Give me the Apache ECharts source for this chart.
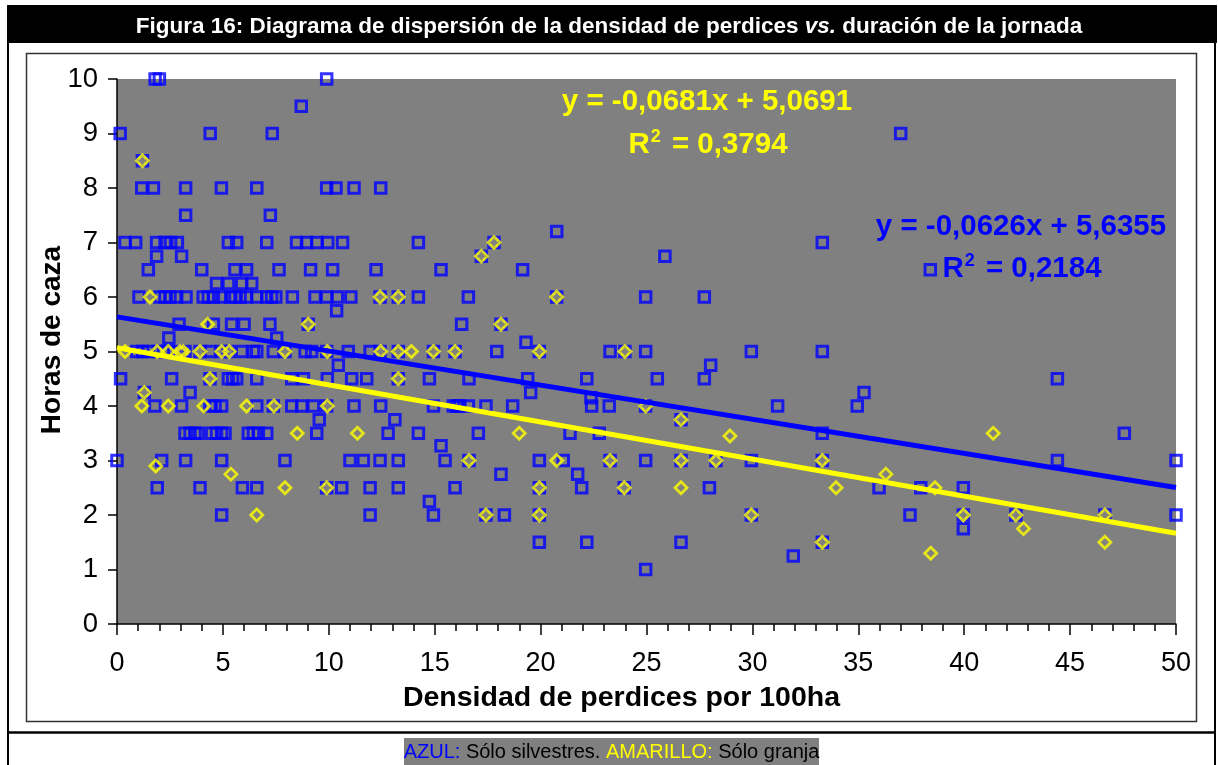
<!DOCTYPE html>
<html>
<head>
<meta charset="utf-8">
<script src="https://cdn.jsdelivr.net/npm/echarts@6/dist/echarts.min.js"></script>
<style>html,body{margin:0;padding:0;background:#fff;}#c{width:1218px;height:765px;}</style>
</head>
<body>
<div id="c"></div>
<script>
// Blue squares: wild-only ("Sólo silvestres") [density, hours]
const silvestres = [
 [1.8,10],[2.0,10],[9.9,10],
 [8.7,9.5],
 [0.15,9],[4.4,9],[7.33,9],[37.0,9],
 [1.2,8.5],
 [1.17,8],[1.72,8],[3.24,8],[4.93,8],[6.6,8],[9.9,8],[10.34,8],[11.19,8],[12.45,8],
 [3.24,7.5],[7.24,7.5],
 [20.76,7.2],
 [0.38,7],[0.88,7],[1.87,7],[2.27,7],[2.53,7],[2.85,7],[5.26,7],[5.65,7],[7.07,7],[8.48,7],[8.95,7],[9.43,7],[9.95,7],[10.65,7],[14.23,7],[17.8,7],[33.3,7],
 [1.87,6.75],[3.05,6.75],[17.2,6.75],[25.87,6.75],
 [1.48,6.5],[4.0,6.5],[5.57,6.5],[6.12,6.5],[7.65,6.5],[9.14,6.5],[10.18,6.5],[12.23,6.5],[15.3,6.5],[19.15,6.5],[38.4,6.5],
 [4.7,6.25],[5.26,6.25],[5.89,6.25],[6.36,6.25],
 [1.04,6],[2.03,6],[2.27,6],[2.5,6],[2.82,6],[3.26,6],[4.07,6],[4.31,6],[4.55,6],[4.94,6],[5.37,6],[5.57,6],[5.81,6],[6.12,6],[6.6,6],[7.07,6],[7.3,6],[7.5,6],[8.28,6],[9.35,6],[9.9,6],[10.4,6],[11.04,6],[12.42,6],[13.28,6],[14.23,6],[16.59,6],[20.76,6],[24.96,6],[27.73,6],
 [10.37,5.75],
 [2.93,5.5],[4.55,5.5],[5.41,5.5],[6.0,5.5],[7.22,5.5],[9.03,5.5],[16.27,5.5],[18.13,5.5],
 [2.45,5.25],[7.54,5.25],
 [19.31,5.17],
 [0.93,5],[1.21,5],[1.48,5],[1.95,5],[2.19,5],[2.42,5],[2.9,5],[3.21,5],[3.92,5],[4.39,5],[4.94,5],[5.26,5],[5.89,5],[6.44,5],[6.6,5],[7.38,5],[7.93,5],[8.88,5],[9.19,5],[9.9,5],[10.92,5],[11.95,5],[12.42,5],[13.28,5],[14.94,5],[15.96,5],[17.93,5],[19.94,5],[23.28,5],[23.98,5],[24.96,5],[29.95,5],[33.3,5],
 [10.45,4.75],[28.03,4.75],
 [0.17,4.5],[2.58,4.5],[4.39,4.5],[5.26,4.5],[5.46,4.5],[5.65,4.5],[6.6,4.5],[8.25,4.5],[8.8,4.5],[9.93,4.5],[11.08,4.5],[11.79,4.5],[13.28,4.5],[14.75,4.5],[16.62,4.5],[19.39,4.5],[22.18,4.5],[25.51,4.5],[27.73,4.5],[44.4,4.5],
 [1.29,4.25],[3.45,4.25],[19.53,4.25],[35.27,4.25],
 [22.38,4.15],
 [1.79,4],[3.05,4],[4.39,4],[4.63,4],[4.94,4],[6.6,4],[7.38,4],[8.25,4],[8.72,4],[9.27,4],[9.9,4],[11.19,4],[12.45,4],[14.94,4],[15.88,4],[16.04,4],[16.19,4],[16.59,4],[17.42,4],[18.68,4],[22.41,4],[23.24,4],[24.96,4],[31.19,4],[34.95,4],
 [9.55,3.75],[13.12,3.75],[26.63,3.75],
 [3.21,3.5],[3.45,3.5],[3.68,3.5],[3.84,3.5],[4.47,3.5],[4.7,3.5],[4.94,3.5],[5.1,3.5],[6.2,3.5],[6.44,3.5],[6.67,3.5],[7.07,3.5],[9.43,3.5],[12.8,3.5],[14.23,3.5],[17.06,3.5],[21.39,3.5],[22.77,3.5],[33.3,3.5],[47.56,3.5],
 [15.3,3.27],
 [0,3],[2.11,3],[3.24,3],[4.94,3],[7.93,3],[11.0,3],[11.63,3],[12.42,3],[13.28,3],[15.49,3],[16.62,3],[19.94,3],[21.07,3],[23.28,3],[24.96,3],[26.63,3],[28.28,3],[29.95,3],[33.3,3],[44.4,3],[50,3],
 [18.13,2.75],[21.75,2.75],
 [1.9,2.5],[3.92,2.5],[5.92,2.5],[6.6,2.5],[9.9,2.5],[10.61,2.5],[11.95,2.5],[13.28,2.5],[15.96,2.5],[19.94,2.5],[21.94,2.5],[23.95,2.5],[27.97,2.5],[35.98,2.5],[37.95,2.5],[39.96,2.5],
 [14.75,2.25],
 [4.94,2],[11.95,2],[14.94,2],[17.42,2],[18.29,2],[19.94,2],[29.95,2],[37.44,2],[39.96,2],[42.44,2],[46.64,2],[50,2],
 [39.96,1.75],
 [19.94,1.5],[22.18,1.5],[26.63,1.5],[33.3,1.5],
 [31.93,1.25],
 [24.96,1]
];

// Yellow diamonds: farm-only ("Sólo granja") [density, hours]
const granja = [
 [1.2,8.5],[17.8,7],[17.2,6.75],
 [1.56,6],[12.42,6],[13.28,6],[20.76,6],
 [4.28,5.5],[9.03,5.5],[18.13,5.5],
 [0.38,5],[1.9,5],[2.42,5],[2.97,5],[3.13,5],[3.92,5],[4.94,5],[5.3,5],[7.93,5],[9.93,5],[12.45,5],[13.28,5],[13.9,5],[14.94,5],[15.96,5],[19.94,5],[23.98,5],
 [4.39,4.5],[13.28,4.5],
 [1.29,4.25],
 [1.17,4],[2.42,4],[4.1,4],[6.12,4],[7.41,4],[9.93,4],[24.96,4],
 [26.63,3.75],
 [8.51,3.5],[11.35,3.5],[18.99,3.5],[41.37,3.5],
 [28.94,3.45],
 [16.62,3],[20.76,3],[23.28,3],[26.63,3],[28.28,3],[33.3,3],
 [1.83,2.9],
 [5.38,2.75],[36.3,2.75],
 [7.93,2.5],[9.9,2.5],[19.94,2.5],[23.95,2.5],[26.63,2.5],[33.95,2.5],[38.62,2.5],
 [6.6,2],[17.42,2],[19.94,2],[29.95,2],[39.96,2],[42.44,2],[46.64,2],
 [42.8,1.75],
 [33.3,1.5],[46.64,1.5],
 [38.42,1.3]
];

// Linear trendlines as printed on the chart: [slope, intercept, R²]
const blueTrend = [-0.0626, 5.6355, 0.2184];
const yellowTrend = [-0.0681, 5.0691, 0.3794];
const trendX = [0, 50];

const xTicks = [0, 5, 10, 15, 20, 25, 30, 35, 40, 45, 50];
const yTicks = [0, 1, 2, 3, 4, 5, 6, 7, 8, 9, 10];

const FONT = '"Liberation Sans", Arial, sans-serif';
const BLUE = '#0000FF';
const YELLOW = '#FFFF00';

function trendLine(t) { return trendX.map(x => [x, t[1] + t[0] * x]); }
function fmt(v, d) { return v.toFixed(d).replace('.', ','); }
function eqText(t) { return 'y = ' + fmt(t[0], 4) + 'x + ' + fmt(t[1], 4); }

const chart = echarts.init(document.getElementById('c'), null, {renderer: 'canvas'});
chart.setOption({
  animation: false,
  backgroundColor: '#ffffff',
  title: {
    text: 'Figura 16: Diagrama de dispersión de la densidad de perdices {i|vs.} duración de la jornada',
    left: 'center',
    top: 10,
    textStyle: {
      color: '#ffffff', fontFamily: FONT, fontWeight: 'bold', fontSize: 22.5,
      rich: { i: { color: '#ffffff', fontFamily: FONT, fontWeight: 'bold', fontStyle: 'italic', fontSize: 22.5 } }
    }
  },
  grid: {
    left: 117, right: 42, top: 79, bottom: 141,
    show: true, backgroundColor: '#808080', borderWidth: 0
  },
  xAxis: {
    type: 'value', min: 0, max: 50, interval: 5,
    name: 'Densidad de perdices por 100ha',
    nameLocation: 'middle', nameGap: 60, nameMoveOverlap: false,
    nameTextStyle: { fontFamily: FONT, fontWeight: 'bold', fontSize: 28.5, color: '#000', padding: [0, 50, 0, 0] },
    axisLine: { show: true, lineStyle: { color: '#000', width: 1.5 } },
    axisTick: { show: true, inside: false, length: 11, lineStyle: { color: '#000', width: 1.5 } },
    minorTick: { show: true, splitNumber: 5, length: 7, lineStyle: { color: '#000', width: 1.5 } },
    axisLabel: { fontFamily: FONT, fontSize: 27, color: '#000', margin: 26,
      formatter: v => (xTicks.indexOf(v) >= 0 ? String(v) : '') },
    splitLine: { show: false }
  },
  yAxis: {
    type: 'value', min: 0, max: 10, interval: 1,
    name: 'Horas de caza',
    nameLocation: 'middle', nameGap: 51, nameRotate: 90, nameMoveOverlap: false,
    nameTextStyle: { fontFamily: FONT, fontWeight: 'bold', fontSize: 28, color: '#000', padding: [0, 0, 0, 23] },
    axisLine: { show: true, lineStyle: { color: '#000', width: 1.5 } },
    axisTick: { show: true, inside: false, length: 9, lineStyle: { color: '#000', width: 1.5 } },
    axisLabel: { fontFamily: FONT, fontSize: 27.5, color: '#000', margin: 19,
      formatter: v => (yTicks.indexOf(v) >= 0 ? String(v) : '') },
    splitLine: { show: false }
  },
  series: [
    {
      name: 'Sólo silvestres', type: 'scatter', data: silvestres, z: 2,
      symbol: 'rect', symbolSize: 10.5,
      itemStyle: { color: 'rgba(0,0,0,0)', borderColor: BLUE, borderWidth: 3 }
    },
    {
      name: 'Sólo granja', type: 'scatter', data: granja, z: 3,
      symbol: 'diamond', symbolSize: 12,
      itemStyle: { color: 'rgba(0,0,0,0)', borderColor: YELLOW, borderWidth: 2.8 }
    },
    {
      name: 'Tendencia silvestres', type: 'line', data: trendLine(blueTrend), z: 4,
      symbol: 'none', lineStyle: { color: BLUE, width: 5 }, silent: true
    },
    {
      name: 'Tendencia granja', type: 'line', data: trendLine(yellowTrend), z: 5,
      symbol: 'none', lineStyle: { color: YELLOW, width: 5 }, silent: true
    }
  ],
  graphic: [
    { type: 'rect', z: -10, shape: { x: 7, y: 5, width: 1210, height: 38 }, style: { fill: '#000' } },
    { type: 'line', z: -10, shape: { x1: 8, y1: 5, x2: 8, y2: 765 }, style: { stroke: '#000', lineWidth: 2 } },
    { type: 'line', z: -10, shape: { x1: 1215, y1: 5, x2: 1215, y2: 765 }, style: { stroke: '#000', lineWidth: 2 } },
    { type: 'line', z: -10, shape: { x1: 7, y1: 732.5, x2: 1216, y2: 732.5 }, style: { stroke: '#000', lineWidth: 2.5 } },
    { type: 'rect', z: -10, shape: { x: 26.5, y: 53.5, width: 1170, height: 668 }, style: { fill: 'none', stroke: '#333', lineWidth: 1.5 } },
    { type: 'rect', z: -10, shape: { x: 404, y: 738, width: 415, height: 27 }, style: { fill: '#808080' } },
    { type: 'text', z: 10, style: {
        x: 611.5, y: 752, align: 'center', verticalAlign: 'middle',
        text: '{b|AZUL:}{k| Sólo silvestres. }{y|AMARILLO:}{k| Sólo granja}',
        rich: {
          b: { fill: BLUE, fontFamily: FONT, fontSize: 20 },
          k: { fill: '#000', fontFamily: FONT, fontSize: 20 },
          y: { fill: YELLOW, fontFamily: FONT, fontSize: 20 }
        }
    } },
    { type: 'text', z: 10, style: {
        x: 707, y: 102, align: 'center', verticalAlign: 'middle',
        text: eqText(yellowTrend), fill: YELLOW, fontFamily: FONT, fontWeight: 'bold', fontSize: 29.5
    } },
    { type: 'text', z: 10, style: {
        x: 708, y: 145, align: 'center', verticalAlign: 'middle',
        text: '{a|R}{s|2}{a| = ' + fmt(yellowTrend[2], 4) + '}',
        rich: {
          a: { fill: YELLOW, fontFamily: FONT, fontWeight: 'bold', fontSize: 29.5, lineHeight: 34 },
          s: { fill: YELLOW, fontFamily: FONT, fontWeight: 'bold', fontSize: 18, lineHeight: 34, verticalAlign: 'top', padding: [0, 3, 6, 1] }
        }
    } },
    { type: 'text', z: 10, style: {
        x: 1021, y: 227, align: 'center', verticalAlign: 'middle',
        text: eqText(blueTrend), fill: BLUE, fontFamily: FONT, fontWeight: 'bold', fontSize: 29.5
    } },
    { type: 'text', z: 10, style: {
        x: 1022, y: 269, align: 'center', verticalAlign: 'middle',
        text: '{a|R}{s|2}{a| = ' + fmt(blueTrend[2], 4) + '}',
        rich: {
          a: { fill: BLUE, fontFamily: FONT, fontWeight: 'bold', fontSize: 29.5, lineHeight: 34 },
          s: { fill: BLUE, fontFamily: FONT, fontWeight: 'bold', fontSize: 18, lineHeight: 34, verticalAlign: 'top', padding: [0, 3, 6, 1] }
        }
    } }
  ]
});
</script>
</body>
</html>
